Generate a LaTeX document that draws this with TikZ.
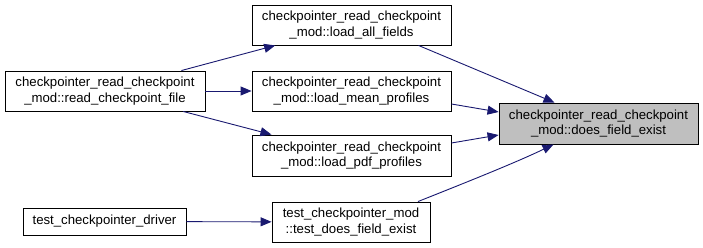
\documentclass[tikz,border=0pt]{standalone}
\usepackage{fontspec}
\setmainfont{Liberation Sans}
\usetikzlibrary{arrows.meta}
\definecolor{edgeblue}{HTML}{191970}
\definecolor{hilite}{HTML}{BFBFBF}
\begin{document}
\begin{tikzpicture}[x=1pt,y=-1pt,
  fn/.style={draw=black,line width=0.9pt,fill=white,rectangle,inner sep=0pt,
    align=center,font=\fontsize{13.2}{15.2}\selectfont},
  call/.style={draw=edgeblue,line width=0.9pt,
    -{Triangle[length=11pt,width=9pt,fill=edgeblue]}}]
\useasboundingbox (0,0) rectangle (703,248);

% callers, left to right
\node[fn,minimum width=200pt,minimum height=40pt] (rcf) at (105,91)
  {checkpointer\_read\_checkpoint\\\_mod::read\_checkpoint\_file};
\node[fn,minimum width=163pt,minimum height=27pt] (drv) at (104.5,221.5)
  {test\_checkpointer\_driver};

\node[fn,minimum width=199pt,minimum height=40pt] (laf) at (351.5,25)
  {checkpointer\_read\_checkpoint\\\_mod::load\_all\_fields};
\node[fn,minimum width=199pt,minimum height=40pt] (lmp) at (351.5,91)
  {checkpointer\_read\_checkpoint\\\_mod::load\_mean\_profiles};
\node[fn,minimum width=199pt,minimum height=41pt] (lpp) at (351.5,155.5)
  {checkpointer\_read\_checkpoint\\\_mod::load\_pdf\_profiles};
\node[fn,minimum width=158pt,minimum height=40pt] (tdf) at (351,222)
  {test\_checkpointer\_mod\\::test\_does\_field\_exist};

% the routine being called
\node[fn,fill=hilite,minimum width=199pt,minimum height=41pt] (dfe) at (598.5,123.5)
  {checkpointer\_read\_checkpoint\\\_mod::does\_field\_exist};

% call edges
\draw[call] (rcf) -- (laf);
\draw[call] (rcf) -- (lmp);
\draw[call] (rcf) -- (lpp);
\draw[call] (drv) -- (tdf);

\draw[call] ([xshift=67pt]laf.south) -- ([xshift=-44pt]dfe.north);
\draw[call] ([yshift=-13pt]lmp.east) -- ([yshift=11.5pt]dfe.west);
\draw[call] ([yshift=12.5pt]lpp.east) -- ([yshift=-11.5pt]dfe.west);
\draw[call] ([xshift=67pt]tdf.north) .. controls (462,184) and (515,163) .. ([xshift=-45pt]dfe.south);
\end{tikzpicture}
\end{document}
